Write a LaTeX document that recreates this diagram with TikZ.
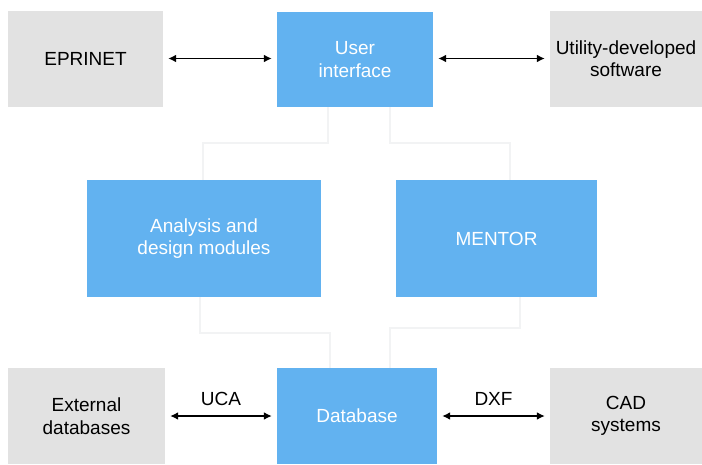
\documentclass[tikz,border=0pt]{standalone}
\usepackage{fontspec}
\setmainfont{Liberation Sans}
\usetikzlibrary{arrows.meta}
\definecolor{boxblue}{RGB}{98,178,240}
\definecolor{boxgrey}{RGB}{226,226,226}
\definecolor{faint}{RGB}{242,243,244}
\begin{document}
\begin{tikzpicture}[x=1pt,y=-1pt,
  greybox/.style={rectangle,fill=boxgrey,inner sep=0pt,align=center,font=\fontsize{19}{22.5}\selectfont,text=black},
  bluebox/.style={rectangle,fill=boxblue,inner sep=0pt,align=center,font=\fontsize{19}{22.5}\selectfont,text=white},
  link/.style={line width=1.8pt,{Latex[length=8pt,width=8pt]}-{Latex[length=8pt,width=8pt]},shorten <=5pt,shorten >=5pt},
  ghost/.style={draw=faint,line width=1.2pt},
  lbl/.style={font=\fontsize{19}{22.5}\selectfont,text=black}]
\useasboundingbox (0,0) rectangle (702,464);
\fill[white] (0,0) rectangle (702,464);
% faint connectors
\coordinate (g1) at (328,143);
\coordinate (g2) at (203,143);
\coordinate (g3) at (390,143);
\coordinate (g4) at (510,143);
\coordinate (g5) at (200,333);
\coordinate (g6) at (330,333);
\coordinate (g7) at (520,328);
\coordinate (g8) at (390,328);
% boxes
\node[greybox,minimum width=155,minimum height=96] (eprinet) at (85.5,58.5) {EPRINET};
\node[bluebox,minimum width=156,minimum height=95] (ui) at (355,59.5) {User\\interface};
\node[greybox,minimum width=152,minimum height=96] (util) at (626,58.5) {Utility-developed\\software};
\node[bluebox,minimum width=234,minimum height=117] (analysis) at (204,238.5) {Analysis and\\design modules};
\node[bluebox,minimum width=201,minimum height=117] (mentor) at (496.5,238.5) {MENTOR};
\node[greybox,minimum width=157,minimum height=96] (ext) at (86.5,416) {External\\databases};
\node[bluebox,minimum width=160,minimum height=96] (db) at (357,416) {Database};
\node[greybox,minimum width=152,minimum height=96] (cad) at (626,416) {CAD\\systems};
% faint loop
\draw[ghost] (ui.south -| g1) -- (g1) -- (g2) -- (analysis.north -| g2);
\draw[ghost] (ui.south -| g3) -- (g3) -- (g4) -- (mentor.north -| g4);
\draw[ghost] (analysis.south -| g5) -- (g5) -- (g6) -- (db.north -| g6);
\draw[ghost] (mentor.south -| g7) -- (g7) -- (g8) -- (db.north -| g8);
% arrows
\draw[link] (eprinet.east) -- (ui.west |- eprinet.east);
\draw[link] (ui.east |- util.west) -- (util.west);
\draw[link] (ext.east) -- node[lbl,above=6pt] {UCA} (db.west);
\draw[link] (db.east) -- node[lbl,above=6pt] {DXF} (cad.west);
\end{tikzpicture}
\end{document}
